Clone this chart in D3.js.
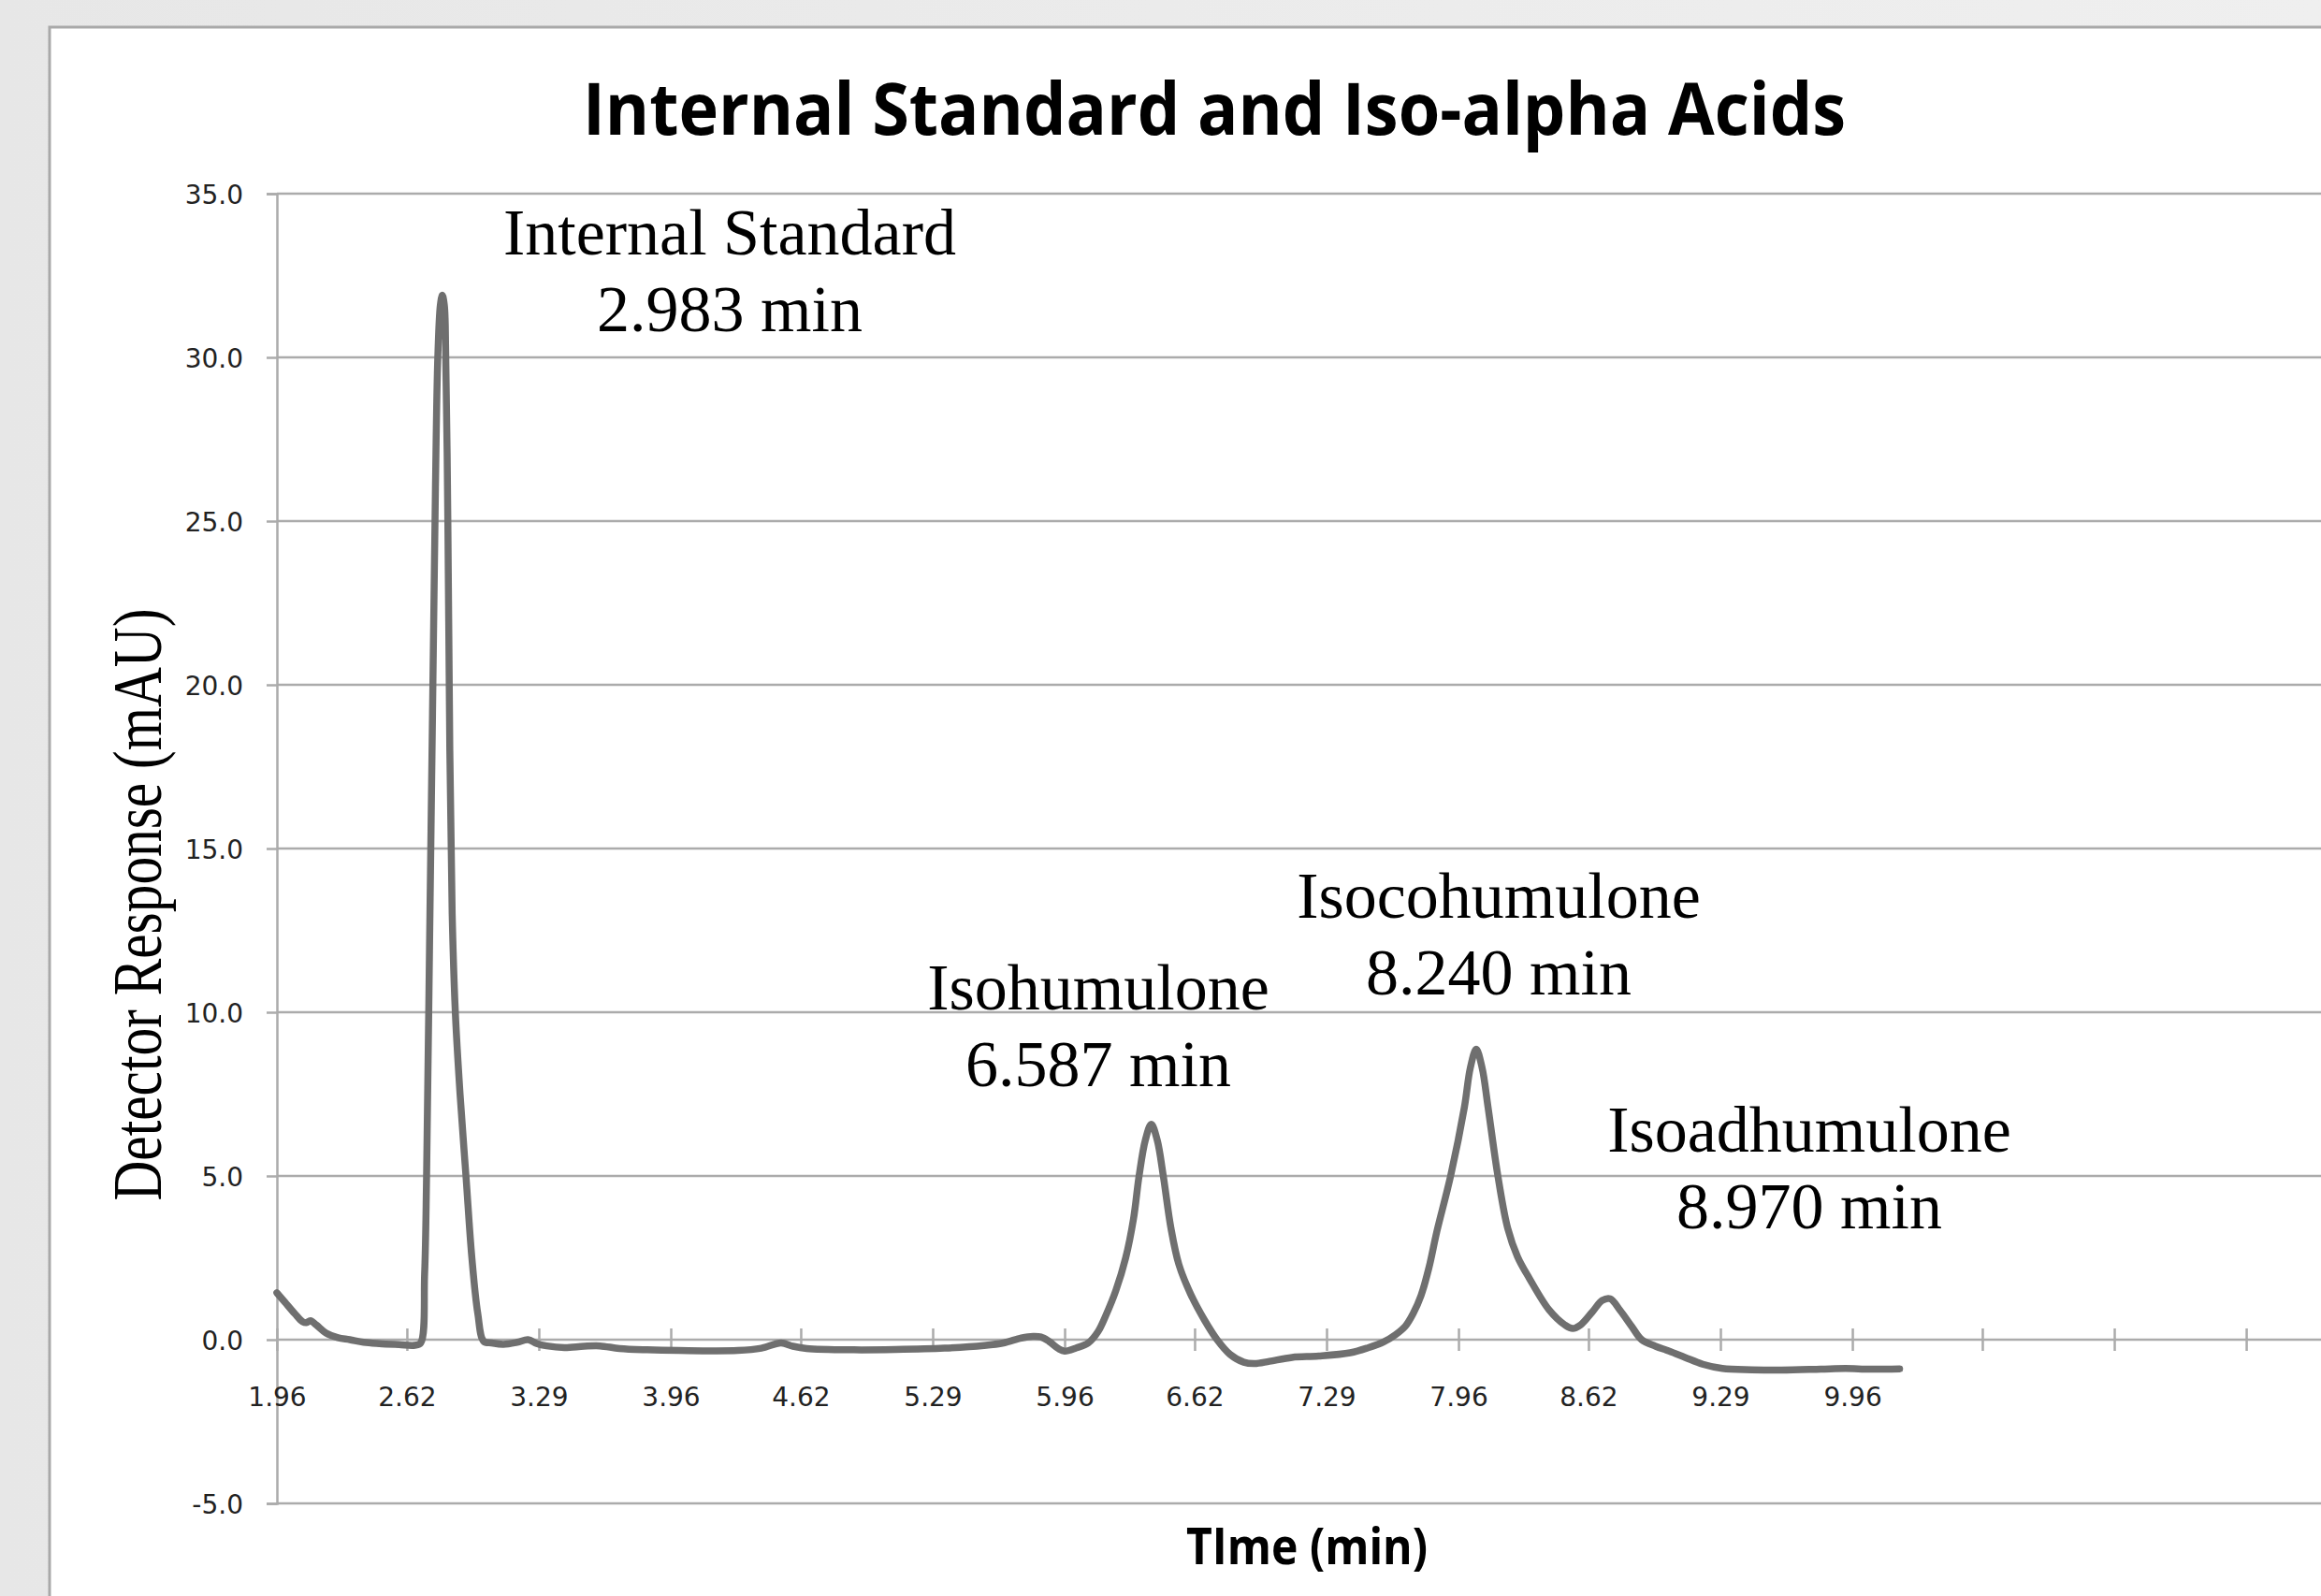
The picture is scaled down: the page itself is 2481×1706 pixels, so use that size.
<!DOCTYPE html>
<html>
<head>
<meta charset="utf-8">
<script src="https://cdn.jsdelivr.net/npm/d3@7"></script>
<style>
    html, body { margin: 0; padding: 0; background: #ececec; }
    svg { display: block; }
</style>
</head>
<body>
<svg width="2481" height="1706"></svg>
<script>
// Chromatogram trace (time in min, response in mAU)
const times = [
    1.96, 2.00, 2.05, 2.09, 2.11, 2.13, 2.16, 2.21, 2.27, 2.33, 2.40, 2.48, 2.58, 2.66,
    2.69, 2.71, 2.72, 2.735, 2.752, 2.765, 2.777, 2.79, 2.80, 2.81, 2.815, 2.828, 2.838,
    2.85, 2.866, 2.89, 2.92, 2.95, 2.98, 3.01, 3.05, 3.11, 3.18, 3.235, 3.28, 3.33, 3.42,
    3.52, 3.60, 3.70, 3.84, 4.00, 4.30, 4.42, 4.52, 4.58, 4.65, 4.89, 5.10, 5.35, 5.55,
    5.65, 5.74, 5.80, 5.84, 5.88, 5.93, 5.96, 6.02, 6.08, 6.13, 6.17, 6.22, 6.27, 6.31,
    6.338, 6.37, 6.40, 6.43, 6.461, 6.50, 6.54, 6.60, 6.67, 6.734, 6.80, 6.87, 6.925,
    7.00, 7.115, 7.25, 7.41, 7.50, 7.58, 7.64, 7.69, 7.73, 7.77, 7.81, 7.85, 7.92, 7.99,
    8.02, 8.05, 8.08, 8.11, 8.16, 8.21, 8.26, 8.32, 8.42, 8.50, 8.54, 8.58, 8.64, 8.69,
    8.73, 8.78, 8.84, 8.89, 8.96, 9.03, 9.11, 9.20, 9.30, 9.45, 9.60, 9.80, 9.925, 10.05,
    10.20
];
const response = [
    1.43, 1.15, 0.80, 0.55, 0.52, 0.58, 0.45, 0.20, 0.06, 0.00, -0.08, -0.12, -0.15, -0.17,
    -0.10, 2.0, 5.0, 12.0, 20.0, 26.0, 30.0, 31.6, 31.9, 31.6, 31.0, 25.0, 18.0,
    13.0, 10.0, 7.5, 5.0, 2.5, 0.8, -0.05, -0.1, -0.14, -0.08, 0.0, -0.12, -0.19, -0.24,
    -0.2, -0.19, -0.27, -0.31, -0.33, -0.33, -0.26, -0.10, -0.2, -0.27, -0.31, -0.3, -0.26, -0.18,
    -0.1, 0.05, 0.10, 0.08, -0.05, -0.28, -0.35, -0.25, -0.1, 0.25, 0.75, 1.5, 2.5, 3.7,
    5.0, 6.1, 6.58, 6.1, 5.0, 3.4, 2.3, 1.39, 0.6, 0.0, -0.45, -0.69, -0.73,
    -0.66, -0.54, -0.5, -0.4, -0.25, -0.07, 0.15, 0.41, 0.8, 1.35, 2.2, 3.3, 5.0, 7.1,
    8.3, 8.87, 8.3, 7.1, 5.0, 3.4, 2.53, 1.87, 0.91, 0.45, 0.34, 0.45, 0.85, 1.2,
    1.25, 0.9, 0.4, 0.0, -0.2, -0.35, -0.54, -0.75, -0.88, -0.92, -0.93, -0.9, -0.88, -0.9,
    -0.89
];

// Axis ticks
const xTickLabels = ["1.96", "2.62", "3.29", "3.96", "4.62", "5.29", "5.96", "6.62",
    "7.29", "7.96", "8.62", "9.29", "9.96"];
const xBlankTicks = [10.62, 11.29, 11.96];
const yTicks = [-5, 0, 5, 10, 15, 20, 25, 30, 35];

// Peak annotations: name, retention time, anchor in data units (centre, first baseline)
const peakNames = ["Internal Standard", "Isohumulone", "Isocohumulone", "Isoadhumulone"];
const peakTimes = ["2.983 min", "6.587 min", "8.240 min", "8.970 min"];
const peakLabelT = [4.259, 6.131, 8.164, 9.741];
const peakLabelV = [33.14, 10.09, 12.89, 5.74];

let svg = d3.select("svg"),
    width = +svg.attr("width"),
    height = +svg.attr("height");

const plotLeft = 296,
    plotRight = 2504,
    plotTop = 207,
    plotBottom = 1607;

const gridColour = "#ababab";
const lineColour = "#6f6f6f";

let x = d3.scaleLinear()
    .domain([1.96, 12.449])
    .range([plotLeft, plotRight]);

let y = d3.scaleLinear()
    .domain([-5, 35])
    .range([plotBottom, plotTop]);

// Grey slide background and the white chart panel
let defs = svg.append("defs");
let bg = defs.append("linearGradient")
    .attr("id", "bg")
    .attr("x1", "0").attr("x2", "1")
    .attr("y1", "0").attr("y2", "0");
bg.append("stop").attr("offset", "0").attr("stop-color", "#e7e7e7");
bg.append("stop").attr("offset", "1").attr("stop-color", "#efefef");

svg.append("rect")
    .attr("width", width)
    .attr("height", height)
    .attr("fill", "url(#bg)");

svg.append("rect")
    .attr("x", 53)
    .attr("y", 29)
    .attr("width", width + 100)
    .attr("height", height + 100)
    .attr("fill", "#ffffff")
    .attr("stroke", "#a9a9a9")
    .attr("stroke-width", 3);

let g = svg.append("g");

// Horizontal gridlines
g.append("g")
    .selectAll("line")
    .data(yTicks)
    .join("line")
    .attr("x1", plotLeft)
    .attr("x2", plotRight)
    .attr("y1", function (d) { return y(d); })
    .attr("y2", function (d) { return y(d); })
    .attr("stroke", gridColour)
    .attr("stroke-width", 2.5);

// Y axis
let yAxis = g.append("g")
    .attr("transform", "translate(" + plotLeft + ",0)")
    .call(d3.axisLeft(y)
        .tickValues(yTicks)
        .tickSize(11)
        .tickPadding(25)
        .tickFormat(function (d) { return d.toFixed(1); }));

yAxis.select(".domain")
    .attr("stroke", gridColour)
    .attr("stroke-width", 2.5);
yAxis.selectAll(".tick line")
    .attr("stroke", gridColour)
    .attr("stroke-width", 2.5);
yAxis.selectAll(".tick text")
    .attr("font-family", "'DejaVu Sans', sans-serif")
    .attr("font-size", 28)
    .attr("fill", "#222")
    .attr("dy", "0.38em");

// X axis sits on the zero line, ticks cross it
let xAxis = g.append("g")
    .attr("transform", "translate(0," + y(0) + ")")
    .call(d3.axisBottom(x)
        .tickValues(xTickLabels.map(Number).concat(xBlankTicks))
        .tickSize(12)
        .tickFormat(function (d) {
            return d <= 10 ? xTickLabels.find(function (s) { return +s === d; }) : "";
        }));

xAxis.select(".domain").remove();
xAxis.selectAll(".tick line")
    .attr("y1", -12)
    .attr("y2", 12)
    .attr("stroke", gridColour)
    .attr("stroke-width", 2.5);
xAxis.selectAll(".tick text")
    .attr("font-family", "'DejaVu Sans', sans-serif")
    .attr("font-size", 28)
    .attr("fill", "#222")
    .attr("y", 71)
    .attr("dy", null);

// The trace (smoothed like the spreadsheet line)
let trace = times.map(function (t, i) {
    return { t: t, v: response[i] };
});

let line = d3.line()
    .x(function (d) { return x(d.t); })
    .y(function (d) { return y(d.v); })
    .curve(d3.curveCatmullRom.alpha(0.5));

g.append("path")
    .datum(trace)
    .attr("d", line)
    .attr("fill", "none")
    .attr("stroke", lineColour)
    .attr("stroke-width", 7.5)
    .attr("stroke-linejoin", "round")
    .attr("stroke-linecap", "round");

// Titles
svg.append("text")
    .attr("x", 1298)
    .attr("y", 144)
    .attr("text-anchor", "middle")
    .attr("font-family", "'Open Sans', sans-serif")
    .attr("font-weight", "bold")
    .attr("font-size", 77)
    .attr("textLength", 1350)
    .attr("lengthAdjust", "spacingAndGlyphs")
    .text("Internal Standard and Iso-alpha Acids");

svg.append("text")
    .attr("x", 1397)
    .attr("y", 1672)
    .attr("text-anchor", "middle")
    .attr("font-family", "'Open Sans', sans-serif")
    .attr("font-weight", "bold")
    .attr("font-size", 54)
    .attr("textLength", 258)
    .attr("lengthAdjust", "spacingAndGlyphs")
    .text("TIme (min)");

svg.append("text")
    .attr("transform", "translate(172,967) rotate(-90)")
    .attr("text-anchor", "middle")
    .attr("font-family", "'Liberation Serif', 'Times New Roman', serif")
    .attr("font-size", 75)
    .attr("textLength", 633)
    .attr("lengthAdjust", "spacingAndGlyphs")
    .text("Detector Response (mAU)");

// Peak labels
const lineGap = 82;
let labels = svg.append("g")
    .selectAll("text")
    .data(peakNames)
    .join("text")
    .attr("text-anchor", "middle")
    .attr("font-family", "'Liberation Serif', 'Times New Roman', serif")
    .attr("font-size", 70)
    .attr("fill", "#000");

labels.append("tspan")
    .attr("x", function (d, i) { return x(peakLabelT[i]); })
    .attr("y", function (d, i) { return y(peakLabelV[i]); })
    .text(function (d) { return d; });

labels.append("tspan")
    .attr("x", function (d, i) { return x(peakLabelT[i]); })
    .attr("y", function (d, i) { return y(peakLabelV[i]) + lineGap; })
    .text(function (d, i) { return peakTimes[i]; });
</script>
</body>
</html>
